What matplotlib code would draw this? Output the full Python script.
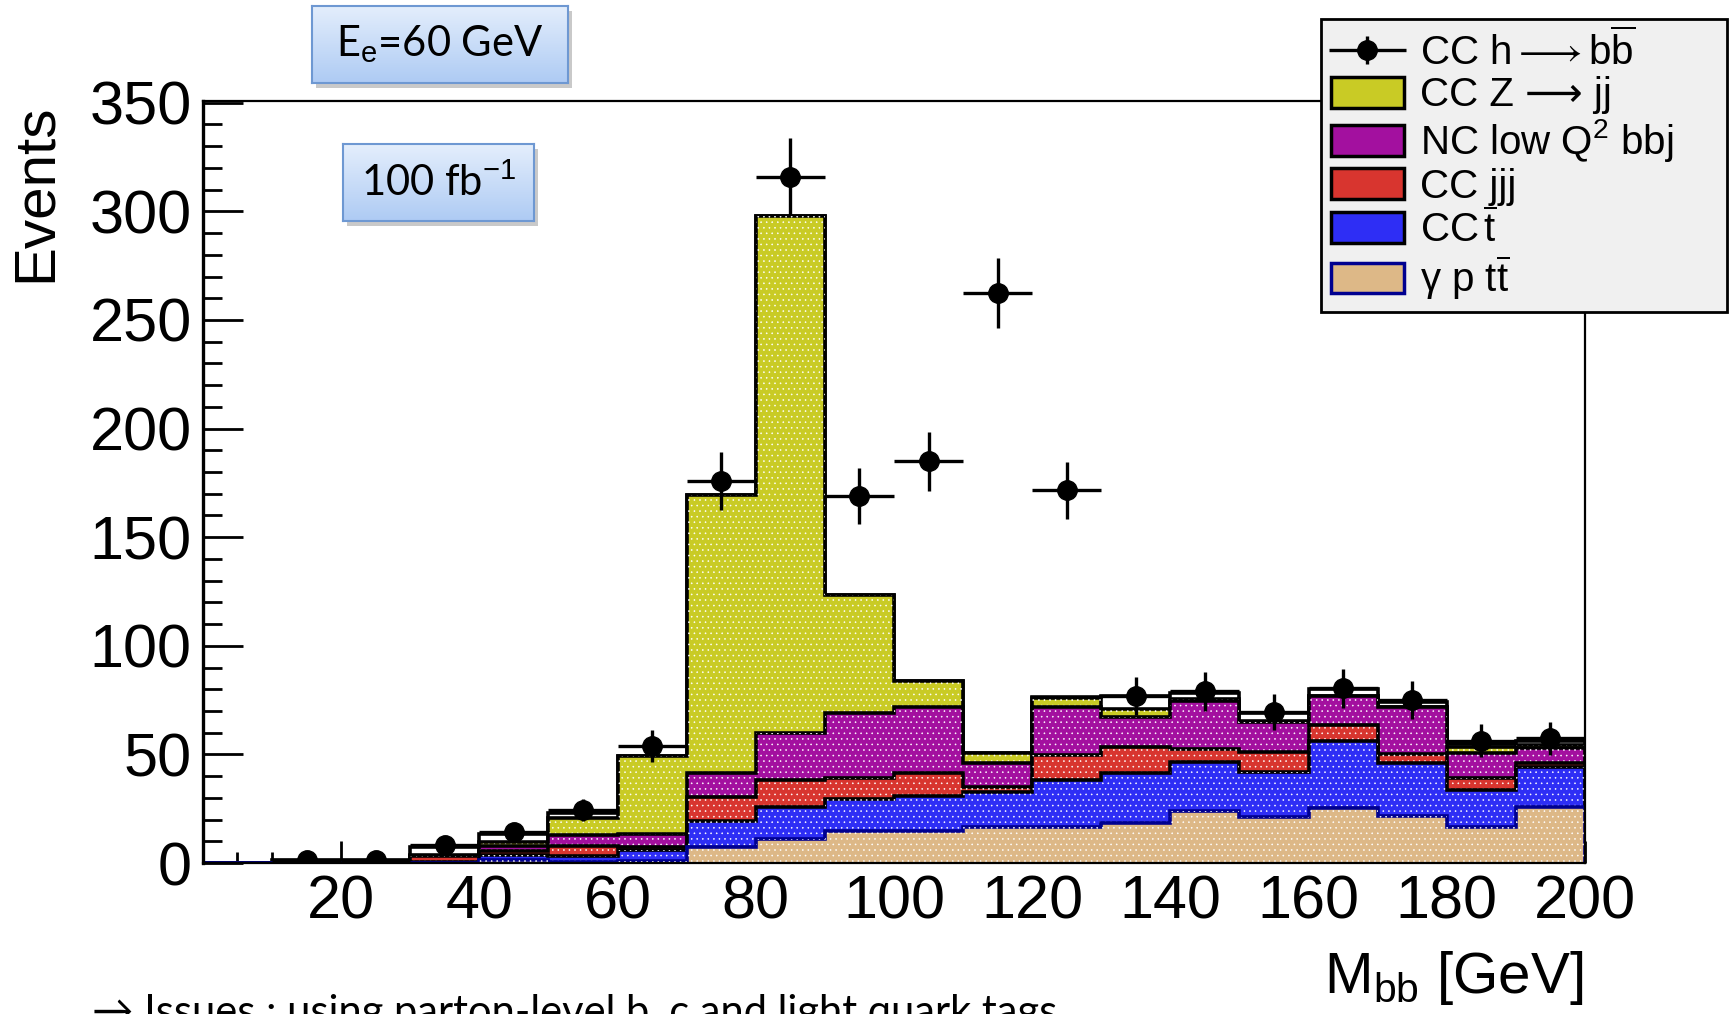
import numpy as np
import matplotlib
matplotlib.use("Agg")
import matplotlib.pyplot as plt
from matplotlib.patches import Patch, Rectangle
from matplotlib.colors import LinearSegmentedColormap
from matplotlib.container import ErrorbarContainer
from matplotlib.legend_handler import HandlerErrorbar

plt.rcParams['font.family'] = ['Liberation Sans', 'DejaVu Sans']
plt.rcParams['mathtext.fontset'] = 'custom'
plt.rcParams['mathtext.rm'] = 'Liberation Sans'
plt.rcParams['mathtext.it'] = 'Liberation Sans:italic'
plt.rcParams['mathtext.bf'] = 'Liberation Sans:bold'
plt.rcParams['hatch.linewidth'] = 0.4

# --- data ---
bin_edges = np.arange(0, 201, 10)
gp_ttbar = [0, 0, 0, 0, 1.4, 0.5, 0.7, 7.5, 11, 14.9, 14.9, 16.7, 16.4, 18.3, 24.1, 21, 25.2, 21.8, 16.7, 26]
cc_tbar = [0, 0, 0, 0.5, 2.3, 2.7, 5.3, 12, 15, 14.8, 16.1, 16.1, 21.6, 23, 22.5, 21, 31.1, 24.4, 16.9, 18.3]
cc_jjj = [0, 0, 0, 2.8, 1.8, 4.6, 1.5, 11, 12, 9.3, 10.3, 2.2, 11.7, 12.2, 5.7, 9, 7.2, 3.8, 5.4, 1.9]
nc_bbj = [0, 0, 0, 0, 2.3, 5.1, 6, 10.8, 22, 30.2, 30.3, 11, 21.9, 13.5, 22.2, 14, 13.3, 21.6, 11.5, 6.6]
cc_zjj = [0, 0, 0, 0.5, 2, 7.8, 35.7, 128.2, 238, 54.1, 12.1, 4.5, 4.2, 3.7, 1, 0.5, 0.2, 0.4, 3, 1.5]
higgs_stack = [0, 1.4, 1.4, 3.7, 3.5, 2.3, 0, 0, 0, 0, 0, 0, 0.5, 6.1, 2.9, 3.5, 3, 2.2, 1.5, 2]

point_x = [15, 25, 35, 45, 55, 65, 75, 85, 95, 105, 115, 125, 135, 145, 155, 165, 175, 185, 195]
point_y = [1.2, 1.5, 8.5, 14.4, 24.4, 53.8, 176, 316, 169, 185, 262.5, 171.5, 77, 79, 69.6, 80.4, 75, 56.3, 57.4]

# layers bottom -> top: values, face colour, edge colour
layers = [
    (gp_ttbar, '#DDB887', '#000090'),
    (cc_tbar, '#2E2EF5', 'black'),
    (cc_jjj, '#D8352F', 'black'),
    (nc_bbj, '#A3109F', 'black'),
    (cc_zjj, '#C9CB25', 'black'),
    (higgs_stack, 'white', 'black'),
]

fig = plt.figure(figsize=(17.33, 10.14), dpi=100)
ax = fig.add_axes([0.1171, 0.1489, 0.7975, 0.7519])

# cumulative sums, draw from the top layer down so lower ones cover the upper fills
cum = np.cumsum([np.array(l[0], dtype=float) for l in layers], axis=0)
z = 1.0
for i in range(len(layers) - 1, -1, -1):
    fc, ec = layers[i][1], layers[i][2]
    ax.stairs(cum[i], bin_edges, baseline=0, fill=True, facecolor=fc,
              edgecolor=ec, linewidth=2.6, zorder=z)
    if fc != 'white':
        ax.stairs(cum[i], bin_edges, baseline=0, fill=True, facecolor='none',
                  edgecolor='white', hatch='...', linewidth=0, zorder=z + 0.01)
    z += 0.1

pts = np.array(point_y)
eb = ax.errorbar(point_x, pts, yerr=np.sqrt(pts), xerr=5, fmt='o', color='black',
                 ms=14, elinewidth=2.4, capsize=0, zorder=5)

ax.set_xlim(0, 200)
ax.set_ylim(0, 351)
ax.set_axisbelow(True)
ax.set_xticks(np.arange(20, 201, 20))
ax.set_xticks(np.arange(0, 201, 5), minor=True)
ax.set_yticks(np.arange(0, 351, 50))
ax.set_yticks(np.arange(0, 351, 10), minor=True)
ax.tick_params(axis='y', which='major', direction='in', length=29, width=2, labelsize=44, pad=8)
ax.tick_params(axis='y', which='minor', direction='in', length=14, width=2)
ax.tick_params(axis='x', which='major', direction='in', length=16, width=2, labelsize=44, pad=8)
ax.tick_params(axis='x', which='minor', direction='in', length=8, width=2)
for s in ['top', 'right']:
    ax.spines[s].set_linewidth(1.6)
ax.spines['left'].set_linewidth(2.4)
ax.spines['bottom'].set_linewidth(1.6)

# axis titles
fig.text(0.0208, 0.81, 'Events', rotation=90, ha='center', va='center', fontsize=42)
fig.text(1583 / 1733, 0.021, r'M$_{\mathrm{bb}}$ [GeV]', ha='right', va='baseline', fontsize=42)

# legend
handles = [eb,
           Patch(facecolor='#C9CB25', edgecolor='black', linewidth=2.5),
           Patch(facecolor='#A3109F', edgecolor='black', linewidth=2.5),
           Patch(facecolor='#D8352F', edgecolor='black', linewidth=2.5),
           Patch(facecolor='#2E2EF5', edgecolor='black', linewidth=2.5),
           Patch(facecolor='#DDB887', edgecolor='#000090', linewidth=2.5)]
labels = [r'CC h$\longrightarrow$b$\overline{\mathrm{b}}$',
          'CC Z ⟶ jj',
          r'NC low Q$^{2}$ bbj',
          'CC jjj',
          r'CC$\,\overline{\mathrm{t}}$',
          r'γ p t$\overline{\mathrm{t}}$']
leg_top = 1 - 19 / 1014
leg = ax.legend(handles, labels, loc='upper left',
                bbox_to_anchor=(1321 / 1733, leg_top - 0.01, 406 / 1733, 0.01),
                bbox_transform=fig.transFigure, mode='expand', borderaxespad=0,
                fontsize=29, frameon=True, fancybox=False, framealpha=1,
                facecolor='#F0F0F0', edgecolor='black', handlelength=1.8,
                handleheight=0.8, handletextpad=0.4, labelspacing=0.08,
                borderpad=0.25,
                handler_map={ErrorbarContainer: HandlerErrorbar(xerr_size=0.95, yerr_size=0.35)})
leg.get_frame().set_linewidth(2)
leg.set_zorder(10)

# info boxes with a light blue gradient
cmap = LinearSegmentedColormap.from_list('boxblue', ['#E4EEFC', '#AECBF4'])


def info_box(x0, y0, w, h, text):
    shadow = Rectangle((x0 + 0.0025, y0 - 0.005), w, h, transform=fig.transFigure,
                       facecolor='#888888', alpha=0.45, edgecolor='none', zorder=1.5)
    fig.patches.append(shadow)
    bax = fig.add_axes([x0, y0, w, h])
    bax.set_zorder(2)
    bax.imshow(np.linspace(0, 1, 100).reshape(-1, 1), aspect='auto', cmap=cmap,
               extent=[0, 1, 0, 1], origin='upper')
    bax.set_xticks([])
    bax.set_yticks([])
    for sp in bax.spines.values():
        sp.set_color('#6E98D2')
        sp.set_linewidth(1.5)
    bax.text(0.5, 0.5, text, ha='center', va='center', fontsize=30,
             family=['Lato', 'DejaVu Sans'], transform=bax.transAxes)


info_box(312 / 1733, 1 - 83 / 1014, 256 / 1733, 77.5 / 1014, r'E$_{\mathrm{e}}$=60 GeV')
info_box(343 / 1733, 1 - 221 / 1014, 191 / 1733, 77 / 1014, r'100 fb$^{\mathrm{-1}}$')

# slide text at the bottom, cut by the lower edge as in the reference
fig.text(92 / 1733, 1 - 994 / 1014, '→ Issues : using parton-level b, c and light quark tags',
         ha='left', va='top', fontsize=30, family=['Lato', 'DejaVu Sans'])

fig.savefig('out.png', dpi=100)
